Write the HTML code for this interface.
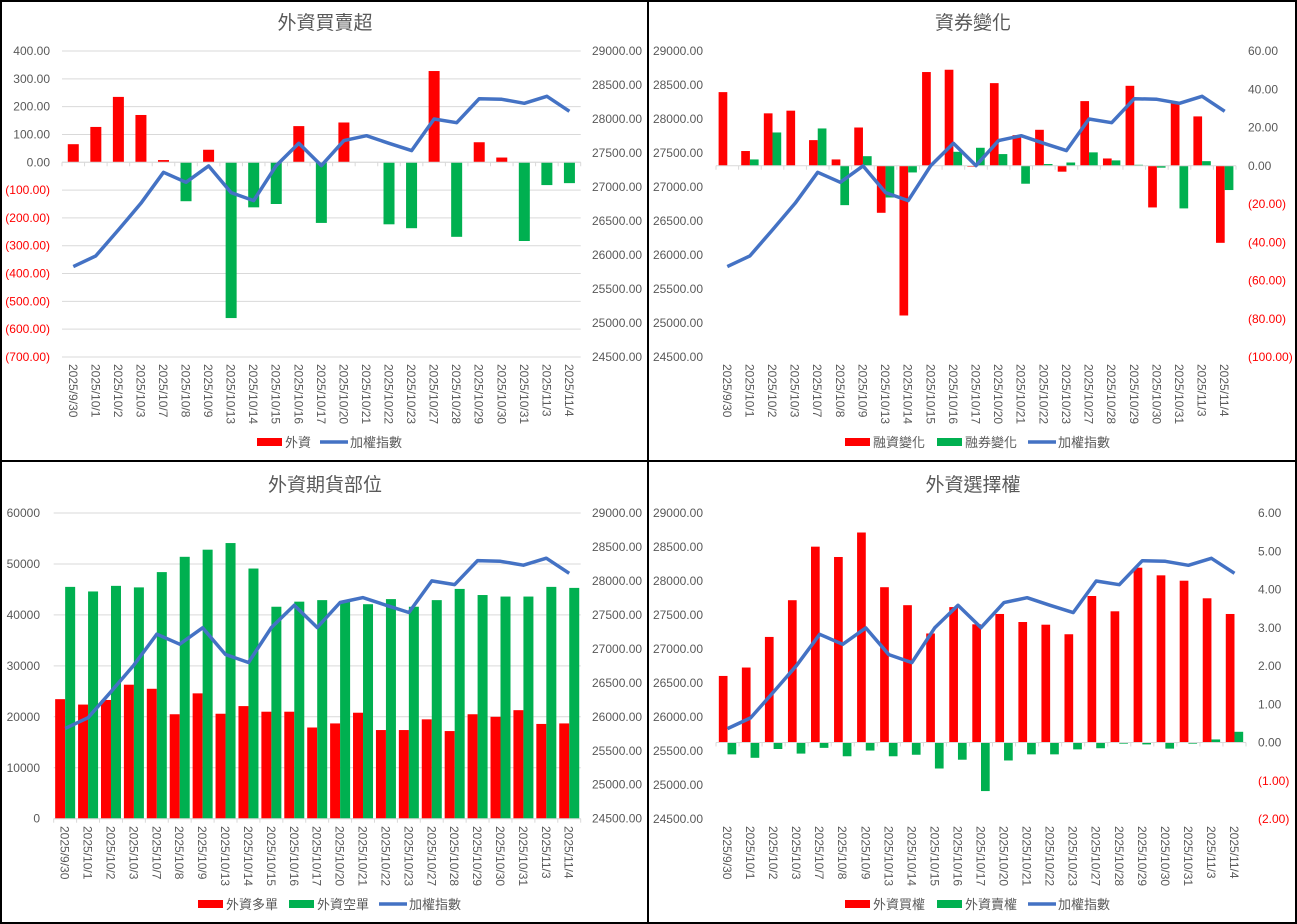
<!DOCTYPE html>
<html><head><meta charset="utf-8"><style>
html,body{margin:0;padding:0;background:#fff;}
svg{display:block;font-family:"Liberation Sans","Noto Sans CJK TC",sans-serif;}
</style></head><body>
<svg id="s" width="1297" height="924" xmlns="http://www.w3.org/2000/svg"></svg>
<script>
const S=document.getElementById('s');let h='';
const dates=["2025/9/30","2025/10/1","2025/10/2","2025/10/3","2025/10/7","2025/10/8","2025/10/9","2025/10/13","2025/10/14","2025/10/15","2025/10/16","2025/10/17","2025/10/20","2025/10/21","2025/10/22","2025/10/23","2025/10/27","2025/10/28","2025/10/29","2025/10/30","2025/10/31","2025/11/3","2025/11/4"];
const idx=[25829,25987,26369,26761,27216,27069,27310,26917,26800,27314,27643,27314,27682,27755,27643,27535,28000,27946,28299,28289,28231,28334,28113];
const N=23,RED='#ff0000',GRN='#00b050',BLU='#4472c4',TXT='#595959',GRID='#d9d9d9';
function fmt(v,dec){let a=Math.abs(v).toFixed(dec);return v<0?'('+a+')':a;}
function panel(o){
 const {ox,oy,x0,x1,yT,yB}=o;const w=(x1-x0)/N;
 h+=`<text x="${ox+325}" y="${oy+29}" font-size="19" fill="${TXT}" text-anchor="middle">${o.title}</text>`;
 const L=o.L,R=o.R;
 const ly=v=>oy+yT+(L.max-v)/(L.max-L.min)*(yB-yT);
 const ry=v=>oy+yT+(R.max-v)/(R.max-R.min)*(yB-yT);
 for(let v=L.min;v<=L.max+1e-9;v+=L.step){const y=ly(v);
  if(o.grid)h+=`<line x1="${ox+x0}" x2="${ox+x1}" y1="${y}" y2="${y}" stroke="${GRID}" stroke-width="1"/>`;
  h+=`<text x="${ox+o.lx}" y="${y+4}" font-size="12" fill="${v<0&&L.negred?RED:TXT}" text-anchor="end">${fmt(v,L.dec)}</text>`;}
 for(let v=R.min;v<=R.max+1e-9;v+=R.step){const y=ry(v);
  h+=`<text x="${ox+o.rx}" y="${y+4}" font-size="12" fill="${v<0?RED:TXT}">${fmt(v,R.dec)}</text>`;}
 const zy=o.barLeft?ly(0):ry(0);
 const by=o.barLeft?ly:ry;
 const ny=o.barLeft?ry:ly;
 o.series.forEach((s,si)=>{const bw=o.bw,ns=o.series.length;
  s.d.forEach((v,i)=>{const cx=ox+x0+w*(i+0.5);const bx=ns==1?cx-bw/2:cx-bw+si*bw;
   const y=by(v);const col=s.sign?(v>=0?RED:GRN):s.c;
   h+=`<rect x="${bx}" y="${Math.min(y,zy)}" width="${bw}" height="${Math.abs(y-zy)}" fill="${col}"/>`;});});
 h+=`<line x1="${ox+x0}" x2="${ox+x1}" y1="${zy}" y2="${zy}" stroke="${GRID}" stroke-width="1"/>`;
 for(let i=0;i<=N;i++){const x=ox+x0+w*i;h+=`<line x1="${x}" x2="${x}" y1="${zy}" y2="${zy+4}" stroke="${GRID}"/>`;}
 let p=idx.map((v,i)=>`${(ox+x0+w*(i+0.5)).toFixed(1)},${ny(v).toFixed(1)}`).join(' ');
 h+=`<polyline points="${p}" fill="none" stroke="${BLU}" stroke-width="3.5" stroke-linejoin="round"/>`;
 dates.forEach((d,i)=>{const cx=ox+x0+w*(i+0.5)-4.5;const y=oy+364;
  h+=`<text transform="translate(${cx},${y}) rotate(90)" font-size="12" fill="${TXT}">${d}</text>`;});
 const ly2=oy+442;
 o.leg.forEach(g=>{const lx=ox+g.x;
  if(g.t=='b')h+=`<rect x="${lx}" y="${ly2-4}" width="25" height="8" fill="${g.c}"/>`;
  else h+=`<line x1="${lx}" x2="${lx+28}" y1="${ly2}" y2="${ly2}" stroke="${BLU}" stroke-width="3.5"/>`;
  h+=`<text x="${lx+(g.t=='b'?28:30)}" y="${ly2+5}" font-size="13" fill="${TXT}">${g.n}</text>`;});
}
const IDXAX={min:24500,max:29000,step:500,dec:2};
panel({ox:0,oy:0,x0:62,x1:580.7,yT:51,yB:357,title:'外資買賣超',grid:true,lx:50,rx:592,
 L:{min:-700,max:400,step:100,dec:2,negred:true},R:IDXAX,barLeft:true,bw:11,
 series:[{sign:true,d:[65,127,235,170,8,-140,45,-560,-162,-150,130,-218,143,0,-223,-237,328,-268,72,17,-283,-82,-75]}],
 leg:[{t:'b',c:RED,n:'外資',x:257},{t:'l',n:'加權指數',x:320}]});
panel({ox:648,oy:0,x0:68,x1:588,yT:51,yB:357,title:'資券變化',grid:false,lx:55,rx:600,
 L:IDXAX,R:{min:-100,max:60,step:20,dec:2},barLeft:false,bw:8.7,
 series:[{c:RED,d:[38.5,7.7,27.4,28.8,13.4,3.3,20,-24.6,-78.3,49,50.2,-0.5,43.2,16,18.8,-3.1,33.8,3.8,41.8,-21.8,33.5,25.8,-40.3]},
 {c:GRN,d:[0,3.3,17.4,0,19.5,-20.6,5,-16.6,-3.5,0,7.3,9.4,6.1,-9.4,0.9,1.7,7,2.8,0.5,-1,-22.3,2.4,-12.7]}],
 leg:[{t:'b',c:RED,n:'融資變化',x:197},{t:'b',c:GRN,n:'融券變化',x:289},{t:'l',n:'加權指數',x:380}]});
panel({ox:0,oy:462,x0:53.7,x1:580.7,yT:51,yB:356.7,title:'外資期貨部位',grid:true,lx:40,rx:592,
 L:{min:0,max:60000,step:10000,dec:0},R:IDXAX,barLeft:true,bw:10,
 series:[{c:RED,d:[23464,22400,23300,26300,25500,20500,24600,20600,22100,21000,21000,17900,18700,20800,17400,17400,19500,17200,20500,20000,21300,18600,18700]},
 {c:GRN,d:[45500,44600,45700,45400,48400,51400,52800,54100,49100,41600,42600,42900,42700,42100,43100,41600,42900,45100,43900,43600,43600,45500,45300]}],
 leg:[{t:'b',c:RED,n:'外資多單',x:198},{t:'b',c:GRN,n:'外資空單',x:289},{t:'l',n:'加權指數',x:379}]});
panel({ox:648,oy:462,x0:68,x1:598,yT:51,yB:357,title:'外資選擇權',grid:false,lx:55,rx:610,
 L:IDXAX,R:{min:-2,max:6,step:1,dec:2},barLeft:false,bw:8.7,
 series:[{c:RED,d:[1.74,1.96,2.76,3.72,5.12,4.85,5.49,4.06,3.59,2.85,3.54,3.09,3.36,3.15,3.08,2.83,3.83,3.43,4.57,4.37,4.23,3.77,3.36]},
 {c:GRN,d:[-0.31,-0.40,-0.17,-0.29,-0.14,-0.36,-0.21,-0.36,-0.32,-0.68,-0.45,-1.27,-0.47,-0.31,-0.31,-0.18,-0.15,-0.03,-0.05,-0.16,-0.03,0.08,0.28]}],
 leg:[{t:'b',c:RED,n:'外資買權',x:197},{t:'b',c:GRN,n:'外資賣權',x:289},{t:'l',n:'加權指數',x:380}]});
h+=`<rect x="1" y="1" width="1295" height="922" fill="none" stroke="#000" stroke-width="2"/>`;
h+=`<line x1="0" x2="1297" y1="461" y2="461" stroke="#000" stroke-width="2"/>`;
h+=`<line x1="648" x2="648" y1="0" y2="924" stroke="#000" stroke-width="2"/>`;
S.innerHTML=h;
</script>
</body></html>
